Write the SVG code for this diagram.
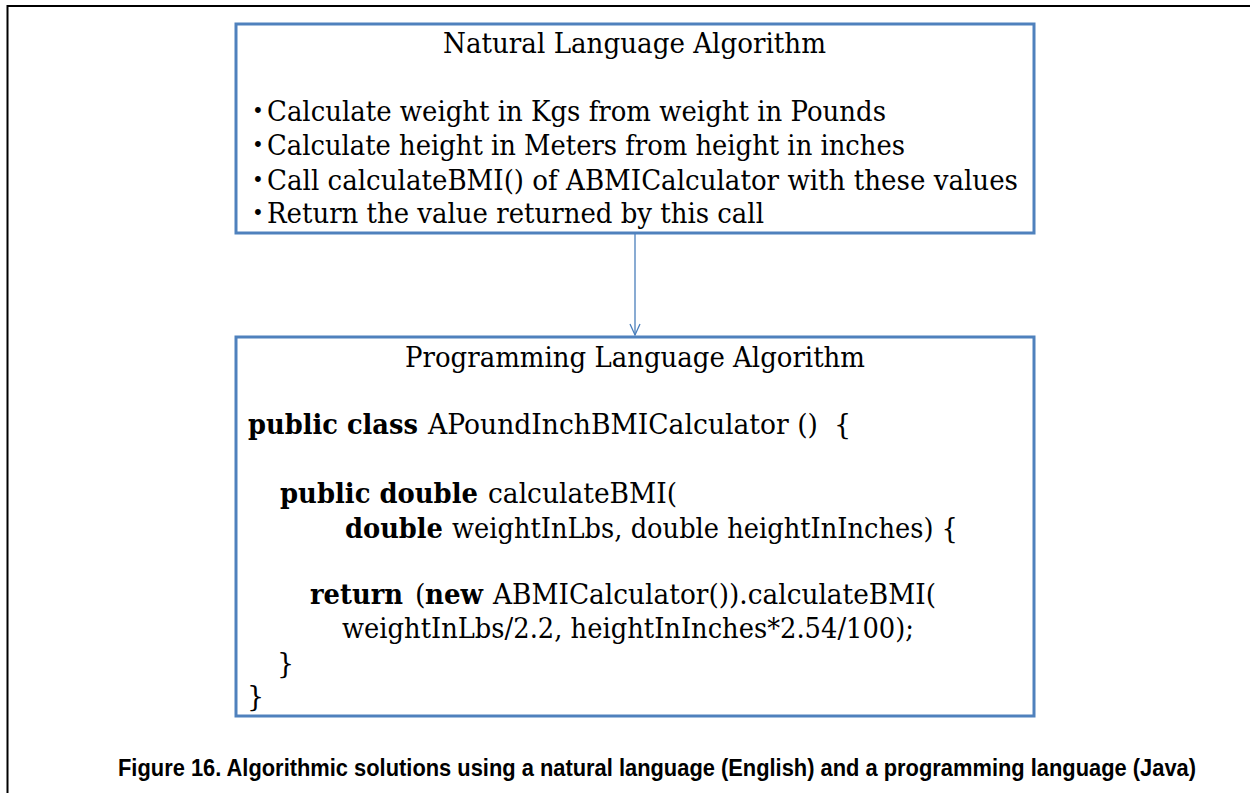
<svg xmlns="http://www.w3.org/2000/svg" width="1250" height="793" viewBox="0 0 1250 793">
<style>
.box{fill:#fff;stroke:#4F81BD;stroke-width:3}
.t{font-family:"DejaVu Serif","Liberation Serif",serif;font-size:27px;fill:#000}
.bul{font-family:"DejaVu Serif","Liberation Serif",serif;font-size:20px;fill:#000}
.b{font-weight:bold}
.cap{font-family:"Liberation Sans",Arial,sans-serif;font-size:23px;font-weight:bold;fill:#000}
.conn{stroke:#4A7EBB;stroke-width:1.3;fill:none}
</style>
<defs>
<marker id="arr" markerWidth="14" markerHeight="12" refX="12" refY="6" orient="auto" markerUnits="userSpaceOnUse">
<path d="M1,1 L12,6 L1,11" fill="none" stroke="#4A7EBB" stroke-width="1.3"/>
</marker>
</defs>
<rect width="1250" height="793" fill="#fff"/>
<g id="frame">
<path d="M7.5,793 V6 H1250" fill="none" stroke="#000" stroke-width="2"/>
</g>
<g id="connectors">
<line class="conn" x1="635" y1="234" x2="635" y2="335" marker-end="url(#arr)"/>
</g>
<g id="natural">
<rect class="box" x="236" y="24" width="798" height="209"/>
<text class="t" x="443" y="53" textLength="383" lengthAdjust="spacingAndGlyphs">Natural Language Algorithm</text>
<text class="bul" x="252" y="118">•</text>
<text class="t" x="267" y="121" textLength="619" lengthAdjust="spacingAndGlyphs">Calculate weight in Kgs from weight in Pounds</text>
<text class="bul" x="252" y="152">•</text>
<text class="t" x="267" y="155" textLength="638" lengthAdjust="spacingAndGlyphs">Calculate height in Meters from height in inches</text>
<text class="bul" x="252" y="187">•</text>
<text class="t" x="267" y="190" textLength="751" lengthAdjust="spacingAndGlyphs">Call calculateBMI() of ABMICalculator with these values</text>
<text class="bul" x="252" y="220">•</text>
<text class="t" x="267" y="223" textLength="497" lengthAdjust="spacingAndGlyphs">Return the value returned by this call</text>
</g>
<g id="programming">
<rect class="box" x="236" y="337" width="798" height="379"/>
<text class="t" x="405" y="367" textLength="460" lengthAdjust="spacingAndGlyphs">Programming Language Algorithm</text>
<text class="t b" x="248" y="434" textLength="170" lengthAdjust="spacingAndGlyphs">public class</text>
<text class="t" x="428" y="434" textLength="390" lengthAdjust="spacingAndGlyphs">APoundInchBMICalculator ()</text>
<text class="t" x="834" y="434">{</text>
<text class="t b" x="280" y="503" textLength="198" lengthAdjust="spacingAndGlyphs">public double</text>
<text class="t" x="488" y="503" textLength="189" lengthAdjust="spacingAndGlyphs">calculateBMI(</text>
<text class="t b" x="345" y="538" textLength="98" lengthAdjust="spacingAndGlyphs">double</text>
<text class="t" x="452" y="538" textLength="506" lengthAdjust="spacingAndGlyphs">weightInLbs, double heightInInches) {</text>
<text class="t b" x="310" y="604" textLength="93" lengthAdjust="spacingAndGlyphs">return</text>
<text class="t" x="415" y="604">(</text>
<text class="t b" x="425" y="604" textLength="58" lengthAdjust="spacingAndGlyphs">new</text>
<text class="t" x="493" y="604" textLength="443" lengthAdjust="spacingAndGlyphs">ABMICalculator()).calculateBMI(</text>
<text class="t" x="342" y="638" textLength="572" lengthAdjust="spacingAndGlyphs">weightInLbs/2.2, heightInInches*2.54/100);</text>
<text class="t" x="277" y="673">}</text>
<text class="t" x="247" y="706">}</text>
</g>
<g id="caption">
<text class="cap" x="118" y="776" textLength="1078" lengthAdjust="spacingAndGlyphs">Figure 16. Algorithmic solutions using a natural language (English) and a programming language (Java)</text>
</g>
</svg>
